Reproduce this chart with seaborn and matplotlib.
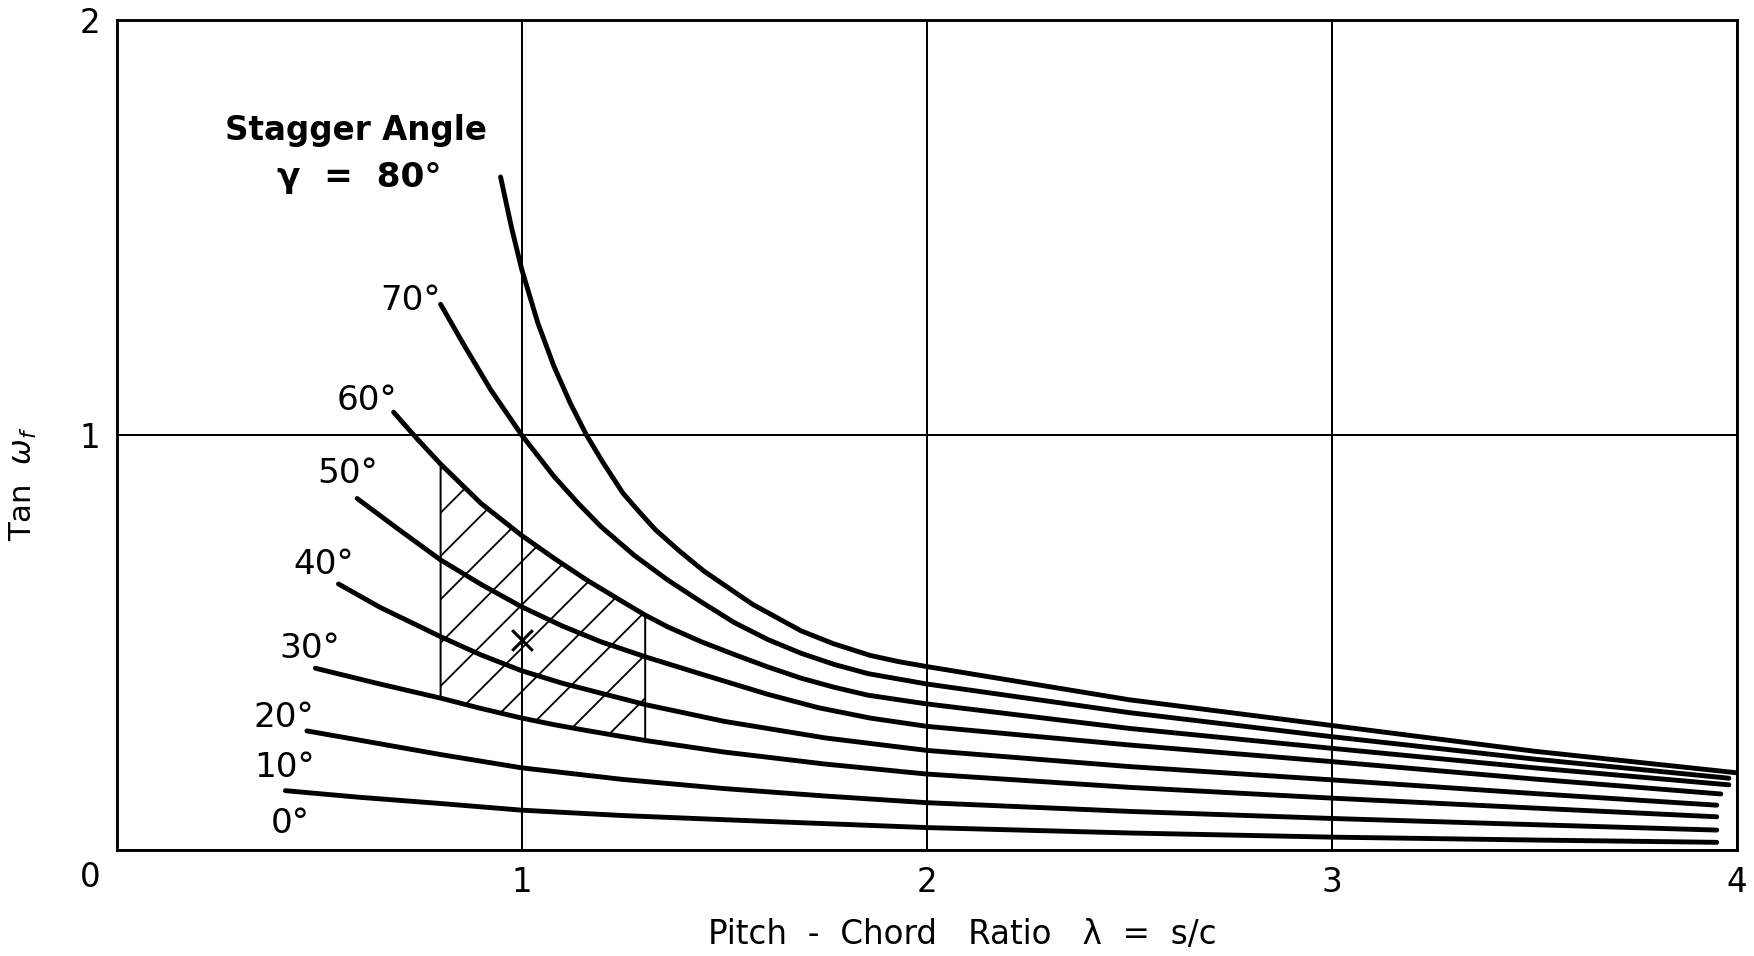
import matplotlib
matplotlib.use("Agg")
import matplotlib.pyplot as plt
import seaborn as sns
from matplotlib.transforms import ScaledTranslation

# ---------------- data ----------------
# pitch-chord ratio (lambda) and tan(omega_f) for each stagger angle
lam_80 = [0.948, 0.975, 1.0, 1.04, 1.08, 1.12, 1.16, 1.20, 1.25, 1.29, 1.33, 1.39, 1.45, 1.57, 1.69, 1.77, 1.86, 1.93, 2.0, 2.5, 3.0, 3.5, 4.0]
tan_80 = [1.622, 1.50, 1.40, 1.27, 1.165, 1.077, 1.0, 0.935, 0.86, 0.815, 0.772, 0.72, 0.672, 0.592, 0.528, 0.497, 0.469, 0.454, 0.442, 0.362, 0.30, 0.238, 0.186]

lam_70 = [0.80, 0.857, 0.923, 1.0, 1.08, 1.14, 1.195, 1.278, 1.36, 1.443, 1.525, 1.608, 1.69, 1.772, 1.855, 2.0, 2.5, 3.0, 3.5, 3.98]
tan_70 = [1.315, 1.218, 1.11, 1.0, 0.90, 0.835, 0.78, 0.71, 0.651, 0.598, 0.548, 0.507, 0.474, 0.447, 0.425, 0.40, 0.331, 0.273, 0.219, 0.173]

lam_60 = [0.684, 0.74, 0.80, 0.90, 1.0, 1.08, 1.16, 1.25, 1.305, 1.36, 1.443, 1.525, 1.608, 1.69, 1.772, 1.855, 2.0, 2.5, 3.0, 3.5, 3.98]
tan_60 = [1.055, 0.993, 0.93, 0.835, 0.758, 0.703, 0.651, 0.598, 0.566, 0.538, 0.502, 0.471, 0.441, 0.414, 0.392, 0.373, 0.352, 0.293, 0.245, 0.198, 0.157]

lam_50 = [0.594, 0.70, 0.80, 0.90, 1.0, 1.1, 1.195, 1.307, 1.443, 1.608, 1.732, 1.86, 2.0, 2.5, 3.0, 3.5, 3.96]
tan_50 = [0.847, 0.77, 0.699, 0.64, 0.586, 0.54, 0.502, 0.465, 0.424, 0.375, 0.343, 0.318, 0.298, 0.253, 0.213, 0.171, 0.135]

lam_40 = [0.548, 0.65, 0.80, 0.90, 1.0, 1.1, 1.195, 1.307, 1.5, 1.75, 2.0, 2.5, 3.0, 3.5, 3.95]
tan_40 = [0.641, 0.585, 0.514, 0.47, 0.432, 0.402, 0.378, 0.350, 0.31, 0.27, 0.24, 0.201, 0.169, 0.136, 0.108]

lam_30 = [0.491, 0.65, 0.80, 0.90, 1.0, 1.08, 1.16, 1.25, 1.305, 1.5, 1.75, 2.0, 2.5, 3.0, 3.5, 3.95]
tan_30 = [0.438, 0.40, 0.366, 0.341, 0.318, 0.302, 0.288, 0.273, 0.264, 0.236, 0.207, 0.183, 0.151, 0.125, 0.101, 0.080]

lam_20 = [0.47, 0.65, 0.80, 1.0, 1.25, 1.5, 1.75, 2.0, 2.5, 3.0, 3.5, 3.95]
tan_20 = [0.287, 0.256, 0.230, 0.198, 0.170, 0.148, 0.13, 0.114, 0.093, 0.076, 0.061, 0.048]

lam_10 = [0.417, 0.6, 0.80, 1.0, 1.25, 1.5, 2.0, 2.5, 3.0, 3.5, 3.95]
tan_10 = [0.143, 0.127, 0.112, 0.096, 0.083, 0.073, 0.054, 0.041, 0.031, 0.024, 0.0185]

# hatched design region (between the 30 deg and 60 deg curves)
hatch_lam = [0.80, 0.90, 1.0, 1.08, 1.16, 1.25, 1.305]
hatch_top = [0.93, 0.835, 0.758, 0.703, 0.651, 0.598, 0.566]
hatch_bottom = [0.366, 0.341, 0.318, 0.302, 0.288, 0.273, 0.264]

# design point marked with an X
mark_lam = [1.0]
mark_tan = [0.505]

angle_labels = ["70°", "60°", "50°", "40°", "30°", "20°", "10°", "0°"]
x_ticks = [0, 1, 2, 3, 4]
x_tick_labels = ["", "1", "2", "3", "4"]
y_ticks = [0, 1, 2]
y_tick_labels = ["0", "1", "2"]

# ---------------- layout ----------------
label_pos = [(0.726, 1.325), (0.617, 1.082), (0.570, 0.907), (0.512, 0.689),
             (0.476, 0.486), (0.412, 0.319), (0.415, 0.199), (0.429, 0.064)]

DPI = 130
W, H = 1754, 956
sns.set_style("white")
plt.rcParams["font.family"] = ["DejaVu Sans"]
plt.rcParams["hatch.linewidth"] = 1.0
plt.rcParams["hatch.color"] = "black"
plt.rcParams["text.color"] = "black"
plt.rcParams["axes.labelcolor"] = "black"
plt.rcParams["xtick.color"] = "black"
plt.rcParams["ytick.color"] = "black"

fig = plt.figure(figsize=(W / DPI, H / DPI), dpi=DPI)
fig.patch.set_facecolor("white")
ax = fig.add_axes([116.5 / W, (H - 850) / H, 1620.5 / W, 830 / H])
ax.set_facecolor("white")

curves = [(lam_80, tan_80), (lam_70, tan_70), (lam_60, tan_60), (lam_50, tan_50),
          (lam_40, tan_40), (lam_30, tan_30), (lam_20, tan_20), (lam_10, tan_10)]
for lam, tan in curves:
    sns.lineplot(x=lam, y=tan, color="black", linewidth=2.7, ax=ax,
                 solid_capstyle="round", solid_joinstyle="round", zorder=3)

ax.fill_between(hatch_lam, hatch_bottom, hatch_top, facecolor="none",
                edgecolor="black", hatch="/", linewidth=1.1, zorder=2)

sns.scatterplot(x=mark_lam, y=mark_tan, marker="x", s=130, color="black",
                linewidth=1.7, ax=ax, zorder=4)

ax.set_xlim(0, 4)
ax.set_ylim(0, 2)
ax.set_xticks(x_ticks)
ax.set_xticklabels(x_tick_labels)
ax.set_yticks(y_ticks)
ax.set_yticklabels(y_tick_labels)
ax.tick_params(axis="both", length=0, labelsize=18, colors="black")
ax.tick_params(axis="x", pad=9)
ax.tick_params(axis="y", pad=9)
# the single "0" sits below-left of the origin
lab0 = ax.get_yticklabels()[0]
lab0.set_transform(lab0.get_transform() + ScaledTranslation(0, -24 / DPI, fig.dpi_scale_trans))

ax.grid(True, color="black", linewidth=1.1)
ax.set_axisbelow(True)
for s in ax.spines.values():
    s.set_visible(True)
    s.set_color("black")
    s.set_linewidth(1.6)

ax.text(0.592, 1.733, "Stagger Angle", ha="center", va="center", fontsize=18, fontweight="bold")
ax.text(0.60, 1.62, "γ  =  80°", ha="center", va="center", fontsize=19, fontweight="bold")
for txt, (lx, ly) in zip(angle_labels, label_pos):
    ax.text(lx, ly, txt, ha="center", va="center", fontsize=19)

ax.set_xlabel("Pitch  -  Chord   Ratio   λ  =  s/c", fontsize=18)
ax.xaxis.set_label_coords(0.522, -0.082)
ax.set_ylabel(r"Tan  $\omega_f$", fontsize=17)
ax.yaxis.set_label_coords(-0.048, 0.441)

fig.savefig("out.png", dpi=DPI, facecolor="white")
